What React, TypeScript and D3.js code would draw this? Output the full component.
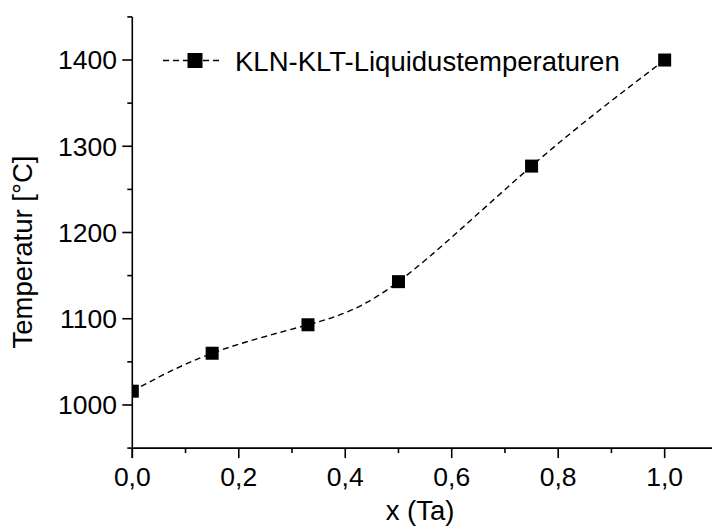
import React from "react";
import * as d3 from "d3";

// Composition x (Ta) and measured liquidus temperature in °C
const xValues = [0, 0.15, 0.33, 0.5, 0.75, 1.0];
const temperatures = [1016, 1060, 1093, 1143, 1277, 1400];

const xMajorTicks = [0, 0.2, 0.4, 0.6, 0.8, 1.0];
const xMinorTicks = [0.1, 0.3, 0.5, 0.7, 0.9];
const yMajorTicks = [1000, 1100, 1200, 1300, 1400];
const yMinorTicks = [950, 1050, 1150, 1250, 1350, 1450];

const seriesLabel = "KLN-KLT-Liquidustemperaturen";
const xTitle = "x (Ta)";
const yTitle = "Temperatur [°C]";

const W = 712;
const H = 527;
const FONT = "'Liberation Sans', Arial, Helvetica, sans-serif";

export default function App() {
  const x = d3.scaleLinear().domain([0, 1.1]).range([132.3, 717.9]);
  const y = d3.scaleLinear().domain([950, 1450]).range([448.1, 16.9]);

  const points = xValues.map((v, i) => [v, temperatures[i]] as [number, number]);
  const line = d3
    .line<[number, number]>()
    .x((d) => x(d[0]))
    .y((d) => y(d[1]))
    .curve(d3.curveNatural);

  const fmt = (v: number) => d3.format(".1f")(v).replace(".", ",");
  const x0 = x(0);
  const yBase = y(950);
  const sq = 13;
  const legendSq = 15;

  return (
    <svg
      width={W}
      height={H}
      style={{ position: "absolute", left: 0, top: 0, background: "#fff" }}
      fontFamily={FONT}
    >
      <defs>
        <clipPath id="plotArea">
          <rect x={x0} y={0} width={W - x0} height={yBase} />
        </clipPath>
      </defs>

      {/* spline through the measurements and the square markers */}
      <g clipPath="url(#plotArea)">
        <path
          d={line(points) || ""}
          fill="none"
          stroke="#000"
          strokeWidth={1.4}
          strokeDasharray="6,4"
        />
        {points.map((d, i) => (
          <rect
            key={i}
            x={x(d[0]) - sq / 2}
            y={y(d[1]) - sq / 2}
            width={sq}
            height={sq}
            fill="#000"
          />
        ))}
      </g>

      {/* x axis */}
      <line x1={x0} x2={W} y1={yBase} y2={yBase} stroke="#000" strokeWidth={1.6} />
      {xMajorTicks.map((t) => (
        <g key={"xM" + t}>
          <line x1={x(t)} x2={x(t)} y1={yBase} y2={yBase + 10} stroke="#000" strokeWidth={1.6} />
          <text x={x(t)} y={486} textAnchor="middle" fontSize={26.5} fill="#000">
            {fmt(t)}
          </text>
        </g>
      ))}
      {xMinorTicks.map((t) => (
        <line key={"xm" + t} x1={x(t)} x2={x(t)} y1={yBase} y2={yBase + 5} stroke="#000" strokeWidth={1.6} />
      ))}
      <text x={420} y={520} textAnchor="middle" fontSize={27.5} fill="#000">
        {xTitle}
      </text>

      {/* y axis */}
      <line x1={x0} x2={x0} y1={y(1450)} y2={yBase + 10} stroke="#000" strokeWidth={1.6} />
      {yMajorTicks.map((t) => (
        <g key={"yM" + t}>
          <line x1={x0 - 10} x2={x0} y1={y(t)} y2={y(t)} stroke="#000" strokeWidth={1.6} />
          <text x={117} y={y(t)} dy="0.35em" textAnchor="end" fontSize={26.5} fill="#000">
            {t}
          </text>
        </g>
      ))}
      {yMinorTicks.map((t) => (
        <line key={"ym" + t} x1={x0 - 5} x2={x0} y1={y(t)} y2={y(t)} stroke="#000" strokeWidth={1.6} />
      ))}
      <text
        transform={`translate(32,252) rotate(-90)`}
        textAnchor="middle"
        fontSize={27.5}
        fill="#000"
      >
        {yTitle}
      </text>

      {/* legend */}
      <line x1={163} x2={222} y1={60.5} y2={60.5} stroke="#000" strokeWidth={1.4} strokeDasharray="6,4" />
      <rect x={195 - legendSq / 2} y={60.5 - legendSq / 2} width={legendSq} height={legendSq} fill="#000" />
      <text x={235} y={70.5} fontSize={27.5} fill="#000">
        {seriesLabel}
      </text>
    </svg>
  );
}
